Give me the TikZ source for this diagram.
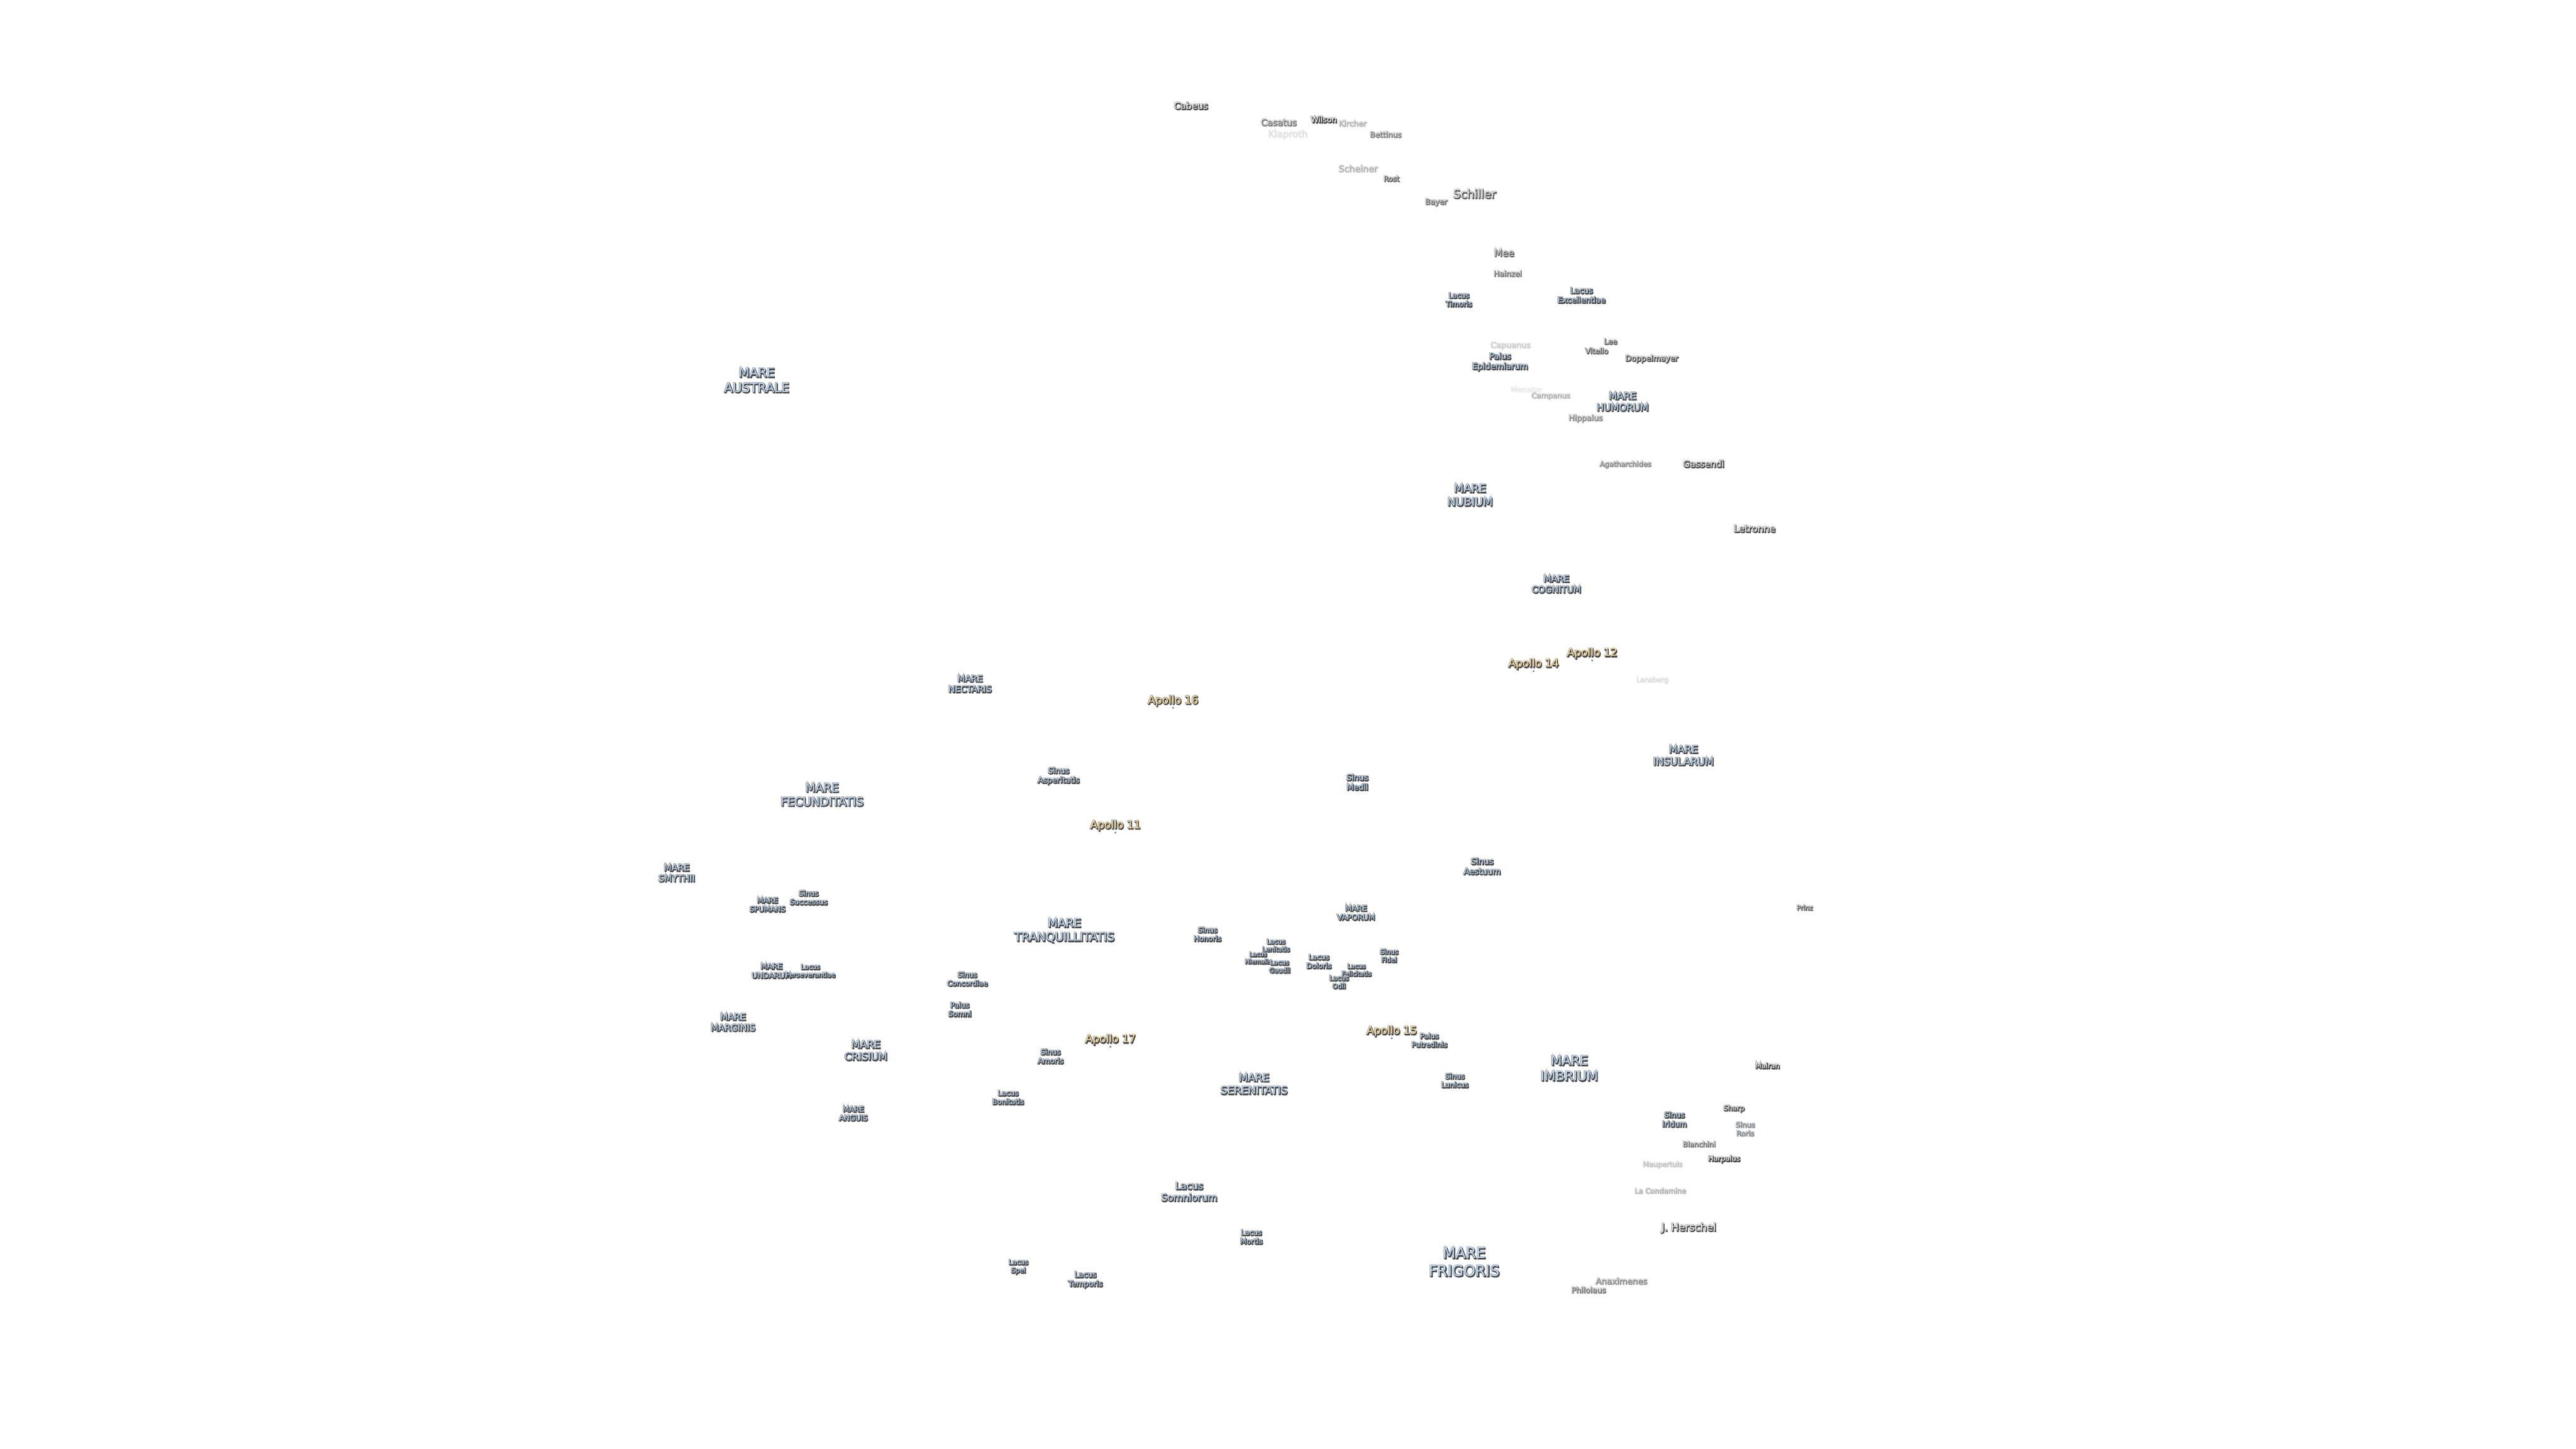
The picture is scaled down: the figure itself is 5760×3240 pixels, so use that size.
\documentclass[tikz,border=0pt]{standalone}
\usepackage{fontspec}
\setmainfont{DejaVu Sans}
\newfontfamily\moonflat{DejaVu Sans}
\definecolor{marefill}{HTML}{BBD7F3}
\definecolor{apollofill}{HTML}{FFDD99}
\definecolor{moonhalo}{HTML}{A6A6A6}
\definecolor{moonshade}{HTML}{4A4A4A}

% font size given in px of the picture, stroke width in px too
\newcommand{\moonsize}[1]{\fontsize{\fpeval{#1*0.2845}}{\fpeval{#1*0.2845*1.2}}\selectfont}
\newcommand{\moonstroke}[2]{\addfontfeature{FakeBold=\fpeval{round(100*#2/#1,1)}}}
% one label: halo, dark shade, then the text itself
\newcommand{\moon}[5]{%
	\node [#4, text=moonhalo, font=\moonflat\moonsize{#3}\moonstroke{#3}{3.2}] at (#2) {#5};
	\node [#4, text=moonshade, font=\moonflat\moonsize{#3}\moonstroke{#3}{1.8}] at ([shift={(1.5,2)}]#2) {#5};
	\node [#4, font=\moonflat\moonsize{#3}] (#1) at (#2) {#5};
}

\begin{document}
\begin{tikzpicture}[x=0.01cm, y=-0.01cm]
		% Estilos
		\tikzstyle{lbl} = [inner sep=0pt, align=center]
		\tikzstyle{mare} = [lbl, text=marefill]
		\tikzstyle{crater} = [lbl, text=white, yshift=0.02cm]
		\tikzstyle{apollo} = [lbl, text=apollofill]
		\tikzstyle{apollodot} = [circle, fill=apollofill, draw=moonshade, line width=0.2pt, inner sep=0pt, minimum size=0.9pt, node distance=0.16cm]

		\useasboundingbox (0,0) rectangle (5760,3240);

		% Mares
		\moon{australe}{1692,850}{28}{mare}{MARE\\AUSTRALE}
		\moon{humorum}{3628,898}{21.4}{mare}{MARE\\HUMORUM}
		\moon{nubium}{3287,1107}{25}{mare}{MARE\\NUBIUM}
		\moon{cognitum}{3480,1306}{20}{mare}{MARE\\COGNITUM}
		\moon{nectaris}{2169,1529}{19.6}{mare}{MARE\\NECTARIS}
		\moon{insularum}{3764,1689}{22.7}{mare}{MARE\\INSULARUM}
		\moon{fecunditatis}{1838,1777}{26}{mare}{MARE\\FECUNDITATIS}
		\moon{smythii}{1513,1952}{20}{mare}{MARE\\SMYTHII}
		\moon{spumans}{1716,2023}{16.3}{mare}{MARE\\SPUMANS}
		\moon{vaporum}{3032,2041}{17}{mare}{MARE\\VAPORUM}
		\moon{tranquillitatis}{2380,2081}{26}{mare}{MARE\\TRANQUILLITATIS}
		\moon{undarum}{1725,2171}{17}{mare}{MARE\\UNDARUM}
		\moon{marginis}{1639,2286}{20}{mare}{MARE\\MARGINIS}
		\moon{crisium}{1936,2349}{22.7}{mare}{MARE\\CRISIUM}
		\moon{imbrium}{3509,2389}{29}{mare}{MARE\\IMBRIUM}
		\moon{serenitatis}{2804,2424}{23.7}{mare}{MARE\\SERENITATIS}
		\moon{anguis}{1908,2490}{16.5}{mare}{MARE\\ANGUIS}
		\moon{frigoris}{3274,2822}{33.3}{mare}{MARE\\FRIGORIS}

		% Lacus, sinus, palus
		\moon{timoris}{3262,670}{16}{mare}{Lacus\\Timoris}
		\moon{excellentiae}{3536,660}{17.6}{mare}{Lacus\\Excellentiae}
		\moon{epidemiarum}{3354,809}{18.7}{mare}{Palus\\Epidemiarum}
		\moon{asperitatis}{2367,1735}{17.5}{mare}{Sinus\\Asperitatis}
		\moon{medii}{3035,1749}{18}{mare}{Sinus\\Medii}
		\moon{aestuum}{3314,1937}{18.6}{mare}{Sinus\\Aestuum}
		\moon{successus}{1808,2007}{16.2}{mare}{Sinus\\Successus}
		\moon{honoris}{2700,2089}{16}{mare}{Sinus\\Honoris}
		\moon{lenitatis}{2853,2114}{14.4}{mare}{Lacus\\Lenitatis}
		\moon{fidei}{3106,2137}{15}{mare}{Sinus\\Fidei}
		\moon{hiemalis}{2813,2142}{13.5}{mare}{Lacus\\Hiemalis}
		\moon{doloris}{2949,2150}{16}{mare}{Lacus\\Doloris}
		\moon{gaudii}{2861,2161}{14.6}{mare}{Lacus\\Gaudii}
		\moon{felicitatis}{3033,2169}{14}{mare}{Lacus\\Felicitatis}
		\moon{perseverantiae}{1812,2171}{14.8}{mare}{Lacus\\Perseverantiae}
		\moon{concordiae}{2163,2189}{16}{mare}{Sinus\\Concordiae}
		\moon{odii}{2994,2196}{15}{mare}{Lacus\\Odii}
		\moon{somni}{2146,2257}{16.3}{mare}{Palus\\Somni}
		\moon{putredinis}{3196,2326}{16}{mare}{Palus\\Putredinis}
		\moon{amoris}{2349,2362}{16.5}{mare}{Sinus\\Amoris}
		\moon{lunicus}{3253,2416}{16}{mare}{Sinus\\Lunicus}
		\moon{bonitatis}{2254,2454}{16}{mare}{Lacus\\Bonitatis}
		\moon{iridum}{3744,2503}{17}{mare}{Sinus\\Iridum}
		\moon{roris}{3902,2524}{16}{mare, opacity=0.35}{Sinus\\Roris}
		\moon{somniorum}{2659,2665}{21.7}{mare}{Lacus\\Somniorum}
		\moon{mortis}{2798,2766}{16.2}{mare}{Lacus\\Mortis}
		\moon{spei}{2277,2833}{15.2}{mare}{Lacus\\Spei}
		\moon{temporis}{2427,2862}{17}{mare}{Lacus\\Temporis}

		% Cráteres
		\moon{cabeus}{2663,238}{20.4}{crater, opacity=0.9}{Cabeus}
		\moon{wilson}{2960,269}{17.5}{crater}{Wilson}
		\moon{casatus}{2859,275}{20}{crater, opacity=0.45}{Casatus}
		\moon{kircher}{3024,277}{17.5}{crater, opacity=0.2}{Kircher}
		\moon{klaproth}{2879,302}{21}{crater, opacity=0.07}{Klaproth}
		\moon{bettinus}{3098,302}{17}{crater, opacity=0.4}{Bettinus}
		\moon{scheiner}{3036,378}{20}{crater, opacity=0.2}{Scheiner}
		\moon{rost}{3111,401}{16}{crater, opacity=0.6}{Rost}
		\moon{schiller}{3297,435}{26}{crater, opacity=0.7}{Schiller}
		\moon{bayer}{3211,454}{17}{crater, opacity=0.5}{Bayer}
		\moon{mee}{3363,567}{21.5}{crater, opacity=0.6}{Mee}
		\moon{hainzel}{3371,613}{17}{crater, opacity=0.45}{Hainzel}
		\moon{lee}{3601,765}{16.5}{crater, opacity=0.6}{Lee}
		\moon{capuanus}{3377,774}{18}{crater, opacity=0.12}{Capuanus}
		\moon{vitello}{3570,786}{16.5}{crater, opacity=0.6}{Vitello}
		\moon{doppelmayer}{3693,804}{17.5}{crater, opacity=0.75}{Doppelmayer}
		\moon{mercator}{3412,872}{15.6}{crater, opacity=0.05}{Mercator}
		\moon{campanus}{3467,887}{16.3}{crater, opacity=0.2}{Campanus}
		\moon{hippalus}{3545,937}{17.5}{crater, opacity=0.35}{Hippalus}
		\moon{gassendi}{3809,1039}{20}{crater, opacity=0.85}{Gassendi}
		\moon{agatharchides}{3634,1040}{16}{crater, opacity=0.35}{Agatharchides}
		\moon{letronne}{3923,1184}{21}{crater, opacity=0.9}{Letronne}
		\moon{lansberg}{3694,1522}{15.6}{crater, opacity=0.08}{Lansberg}
		\moon{prinz}{4035,2031}{14.5}{crater, opacity=0.6}{Prinz}
		\moon{mairan}{3952,2385}{16}{crater}{Mairan}
		\moon{sharp}{3877,2481}{16}{crater, opacity=0.75}{Sharp}
		\moon{bianchini}{3799,2560}{16}{crater, opacity=0.45}{Bianchini}
		\moon{harpalus}{3855,2594}{16}{crater}{Harpalus}
		\moon{maupertuis}{3717,2606}{15.8}{crater, opacity=0.15}{Maupertuis}
		\moon{condamine}{3712,2664}{16}{crater, opacity=0.2}{La Condamine}
		\moon{herschel}{3776,2748}{23}{crater, opacity=0.85}{J. Herschel}
		\moon{anaximenes}{3625,2866}{18.7}{crater, opacity=0.35}{Anaximenes}
		\moon{philolaus}{3552,2886}{17.3}{crater, opacity=0.45}{Philolaus}

		% Apollo
		\moon{apollo12}{3560,1461}{24}{apollo}{Apollo 12}
		\moon{apollo14}{3429,1485}{24}{apollo}{Apollo 14}
		\moon{apollo16}{2623,1567}{24}{apollo}{Apollo 16}
		\moon{apollo11}{2494,1846}{24}{apollo}{Apollo 11}
		\moon{apollo15}{3112,2306}{24}{apollo}{Apollo 15}
		\moon{apollo17}{2483,2325}{24}{apollo}{Apollo 17}

		\node [apollodot, below of=apollo12] (dot12) {};
		\node [apollodot, below of=apollo14] (dot14) {};
		\node [apollodot, below of=apollo16] (dot16) {};
		\node [apollodot, below of=apollo11] (dot11) {};
		\node [apollodot, below of=apollo15] (dot15) {};
		\node [apollodot, below of=apollo17] (dot17) {};
	\end{tikzpicture}
\end{document}
